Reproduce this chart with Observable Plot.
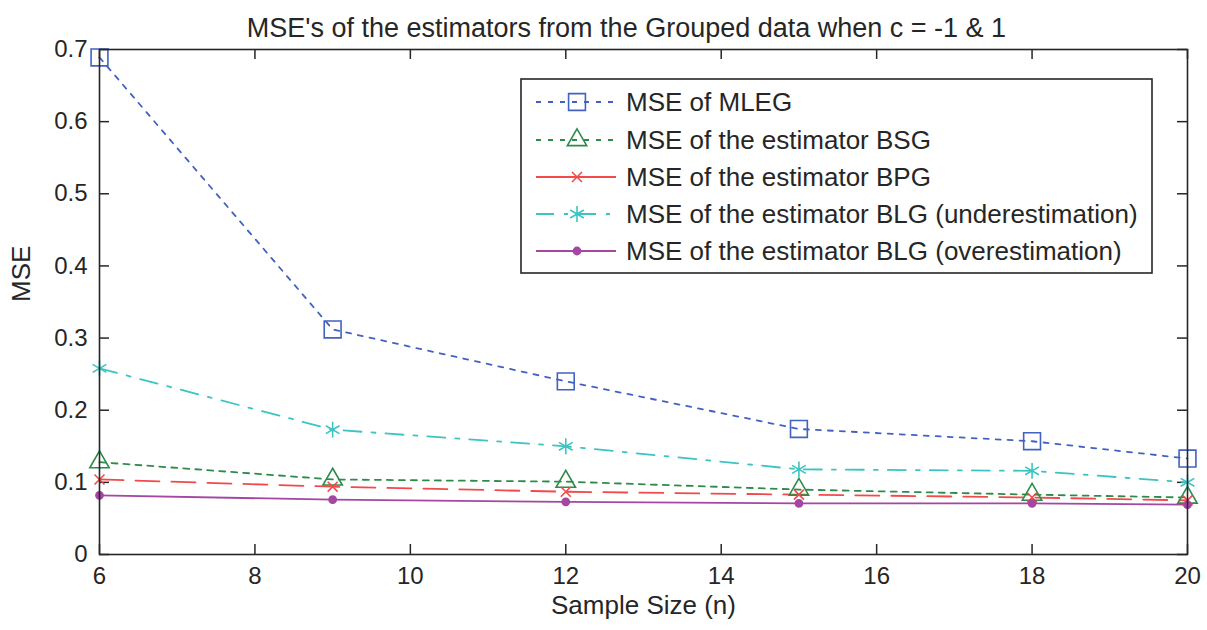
<!DOCTYPE html>
<html><head><meta charset="utf-8">
<script src="https://cdn.jsdelivr.net/npm/d3@7"></script>
<script src="https://cdn.jsdelivr.net/npm/@observablehq/plot@0.6"></script>
<style>
body{margin:0;background:#fff;}
#wrap{position:relative;width:1207px;height:630px;overflow:hidden;}
#wrap svg{position:absolute;left:0;top:0;}
</style></head><body><div id="wrap"></div>
<script>
// ---- data ----
const sampleSizes = [6, 9, 12, 15, 18, 20];
const mseMLEG      = [0.689, 0.312, 0.240, 0.174, 0.157, 0.133];
const mseBSG       = [0.128, 0.104, 0.101, 0.090, 0.083, 0.079];
const mseBPG       = [0.104, 0.094, 0.087, 0.083, 0.079, 0.075];
const mseBLGunder  = [0.258, 0.173, 0.150, 0.118, 0.116, 0.100];
const mseBLGover   = [0.082, 0.076, 0.073, 0.071, 0.071, 0.069];
const seriesNames = [
  "MSE of MLEG",
  "MSE of the estimator BSG",
  "MSE of the estimator BPG",
  "MSE of the estimator BLG (underestimation)",
  "MSE of the estimator BLG (overestimation)"
];
const xTicks = [6, 8, 10, 12, 14, 16, 18, 20];
const yTicks = [0, 0.1, 0.2, 0.3, 0.4, 0.5, 0.6, 0.7];
const titleText = "MSE's of the estimators from the Grouped data when c = -1 & 1";
const xLabel = "Sample Size (n)";
const yLabel = "MSE";

// ---- styles ----
const seriesValues = [mseMLEG, mseBSG, mseBPG, mseBLGunder, mseBLGover];
const styles = [
  {color: "#4262c2", dash: "5,7",        symbol: "square",   r: 9.5, fill: "none"},
  {color: "#2e8c4a", dash: "6,6",        symbol: "triangle", r: 7.2, fill: "none"},
  {color: "#f24a4a", dash: "24,12",      symbol: "times",    r: 4.6, fill: "none"},
  {color: "#3cc3c3", dash: "18,10,4,10", symbol: "asterisk", r: 7.5, fill: "none"},
  {color: "#a347a3", dash: null,         symbol: "circle",   r: 3.6, fill: "#a347a3"}
];
const legendDash = ["5,7", "5,7", null, "18,10,4,10", null];

const rows = [];
seriesValues.forEach((vals, i) => vals.forEach((v, j) => rows.push({series: i, n: sampleSizes[j], mse: v})));

const W = 1207, H = 630;
const mL = 99, mR = 20, mT = 49, mB = 76;
const FONT = "'Liberation Sans', Arial, sans-serif";
const inner = H - mT - mB;
const innerW = W - mL - mR;
const tick = 10;

const marks = [];
styles.forEach((s, i) => {
  const d = rows.filter(r => r.series === i);
  marks.push(Plot.line(d, {x: "n", y: "mse", stroke: s.color, strokeWidth: 1.8,
    strokeDasharray: s.dash || undefined, strokeLinejoin: "round"}));
});
styles.forEach((s, i) => {
  const d = rows.filter(r => r.series === i);
  marks.push(Plot.dot(d, {x: "n", y: "mse", symbol: s.symbol, r: s.r, stroke: s.color,
    fill: s.fill, strokeWidth: 1.6}));
});

const chart = Plot.plot({
  width: W, height: H,
  marginLeft: mL, marginRight: mR, marginTop: mT, marginBottom: mB,
  style: {fontFamily: FONT, fontSize: "24px", color: "#262626", background: "white"},
  x: {domain: [6, 20], ticks: xTicks},
  y: {domain: [0, 0.7], ticks: yTicks},
  marks: [
    // inward ticks on all four sides
    Plot.ruleX(xTicks, {x: d => d, insetTop: inner - tick, stroke: "#262626", strokeWidth: 1.5}),
    Plot.ruleX(xTicks, {x: d => d, insetBottom: inner - tick, stroke: "#262626", strokeWidth: 1.5}),
    Plot.ruleY(yTicks, {y: d => d, insetRight: innerW - tick, stroke: "#262626", strokeWidth: 1.5}),
    Plot.ruleY(yTicks, {y: d => d, insetLeft: innerW - tick, stroke: "#262626", strokeWidth: 1.5}),
    ...marks,
    Plot.frame({stroke: "#262626", strokeWidth: 1.6}),
    Plot.axisX({ticks: xTicks, tickSize: 0, tickPadding: 12, label: null, fontSize: 24, tickFormat: d => String(d)}),
    Plot.axisY({ticks: yTicks, tickSize: 0, tickPadding: 12, label: null, fontSize: 24, tickFormat: d => String(d)}),
    Plot.text([xLabel], {text: d => d, frameAnchor: "bottom", dy: 59, fontSize: 26, fill: "#262626"}),
    Plot.text([yLabel], {text: d => d, frameAnchor: "left", dx: -78, rotate: -90, fontSize: 26, fill: "#262626"}),
    Plot.text([titleText], {text: d => d, frameAnchor: "top", dy: -32, dx: -17, fontSize: 27, fill: "#262626"})
  ]
});
document.getElementById("wrap").appendChild(chart);

// ---- legend overlay ----
const lg = d3.select("#wrap").append("svg").attr("width", W).attr("height", H)
  .style("pointer-events", "none");
const box = {x: 521, y: 79, w: 631, h: 194};
lg.append("rect").attr("x", box.x).attr("y", box.y).attr("width", box.w).attr("height", box.h)
  .attr("fill", "white").attr("stroke", "#262626").attr("stroke-width", 1.6);
const rowY = [102, 140, 177, 214, 251];
const symMap = {square: d3.symbolSquare, triangle: d3.symbolTriangle, times: d3.symbolTimes,
  asterisk: d3.symbolAsterisk, circle: d3.symbolCircle};
seriesNames.forEach((name, i) => {
  const s = styles[i];
  const g = lg.append("g").attr("transform", `translate(0,${rowY[i]})`);
  g.append("line").attr("x1", 536).attr("x2", 616).attr("y1", 0).attr("y2", 0)
    .attr("stroke", s.color).attr("stroke-width", 1.8)
    .attr("stroke-dasharray", legendDash[i] || null);
  g.append("path").attr("transform", "translate(577,0)")
    .attr("d", d3.symbol(symMap[s.symbol], Math.PI * s.r * s.r)())
    .attr("fill", s.fill).attr("stroke", s.color).attr("stroke-width", 1.6);
  g.append("text").attr("x", 626).attr("y", 0).attr("dy", "0.35em")
    .attr("font-family", FONT).attr("font-size", 26).attr("fill", "#262626")
    .attr("textLength", name.length > 30 ? null : null).text(name);
});
</script>
</body></html>
